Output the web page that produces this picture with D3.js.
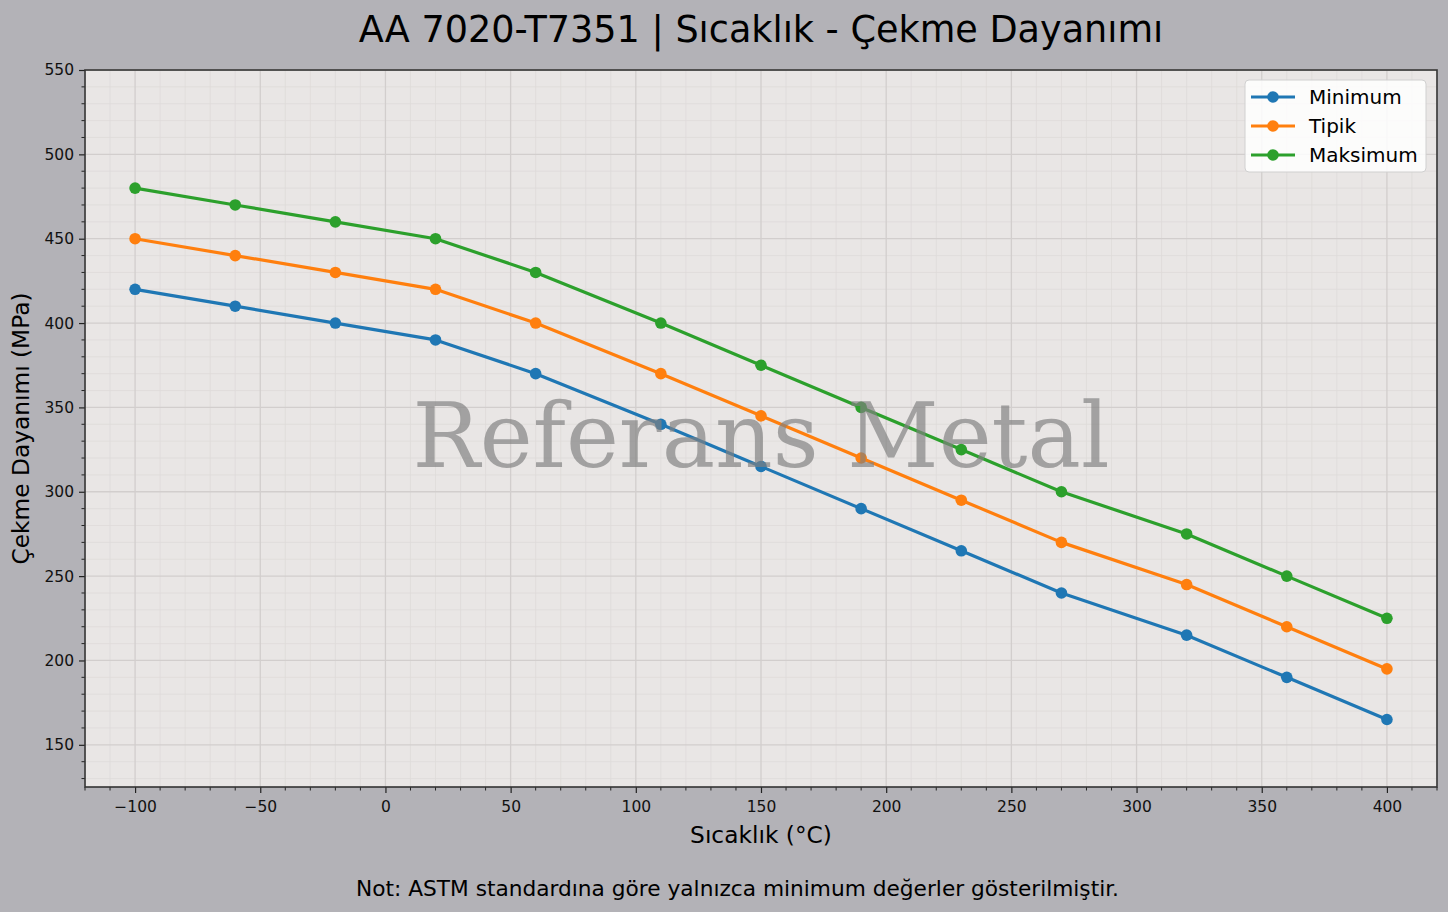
<!DOCTYPE html>
<html>
<head>
<meta charset="utf-8">
<script src="https://cdn.jsdelivr.net/npm/d3@7"></script>
<style>
  body { margin: 0; background: #b3b2b7; }
  text { font-family: "DejaVu Sans", sans-serif; }
</style>
</head>
<body>
<script>
// data
var temps = [-100, -60, -20, 20, 60, 110, 150, 190, 230, 270, 320, 360, 400];
var minimum = [420, 410, 400, 390, 370, 340, 315, 290, 265, 240, 215, 190, 165];
var tipik = [450, 440, 430, 420, 400, 370, 345, 320, 295, 270, 245, 220, 195];
var maksimum = [480, 470, 460, 450, 430, 400, 375, 350, 325, 300, 275, 250, 225];
var seriesNames = ["Minimum", "Tipik", "Maksimum"];
var xTicks = [-100, -50, 0, 50, 100, 150, 200, 250, 300, 350, 400];
var yTicks = [150, 200, 250, 300, 350, 400, 450, 500, 550];

var W = 1448, H = 912;
var m = {top: 70, right: 11, bottom: 125, left: 85};
var pw = W - m.left - m.right, ph = H - m.top - m.bottom;
var colors = ["#1f77b4", "#ff7f0e", "#2ca02c"];

var svg = d3.select("body").append("svg").attr("width", W).attr("height", H);
svg.append("rect").attr("width", W).attr("height", H).attr("fill", "#b3b2b7");

var x = d3.scaleLinear().domain([-120, 420]).range([0, pw]);
var y = d3.scaleLinear().domain([125, 550]).range([ph, 0]);

var g = svg.append("g").attr("transform", "translate(" + m.left + "," + m.top + ")");
g.append("rect").attr("width", pw).attr("height", ph).attr("fill", "#e9e6e5");

// minor grid
var xMinor = d3.range(-120, 421, 10).filter(function(v) { return v % 50 != 0; });
var yMinor = d3.range(130, 551, 10).filter(function(v) { return v % 50 != 0; });
g.append("g").selectAll("line").data(xMinor).enter().append("line")
    .attr("x1", function(d) { return x(d); }).attr("x2", function(d) { return x(d); })
    .attr("y1", 0).attr("y2", ph).attr("stroke", "#dedad9").attr("stroke-width", 0.8);
g.append("g").selectAll("line").data(yMinor).enter().append("line")
    .attr("y1", function(d) { return y(d); }).attr("y2", function(d) { return y(d); })
    .attr("x1", 0).attr("x2", pw).attr("stroke", "#dedad9").attr("stroke-width", 0.8);
// major grid
g.append("g").selectAll("line").data(xTicks).enter().append("line")
    .attr("x1", function(d) { return x(d); }).attr("x2", function(d) { return x(d); })
    .attr("y1", 0).attr("y2", ph).attr("stroke", "#d2cecd").attr("stroke-width", 1.3);
g.append("g").selectAll("line").data(yTicks).enter().append("line")
    .attr("y1", function(d) { return y(d); }).attr("y2", function(d) { return y(d); })
    .attr("x1", 0).attr("x2", pw).attr("stroke", "#d2cecd").attr("stroke-width", 1.3);

// axes
var xAxis = g.append("g").attr("transform", "translate(0," + ph + ")")
    .call(d3.axisBottom(x).tickValues(xTicks).tickSize(6).tickPadding(8)
      .tickFormat(function(d) { return d < 0 ? "\u2212" + Math.abs(d) : d; }));
var yAxis = g.append("g")
    .call(d3.axisLeft(y).tickValues(yTicks).tickSize(6).tickPadding(5));
[xAxis, yAxis].forEach(function(a) {
  a.select(".domain").remove();
  a.selectAll("line").attr("stroke", "#222").attr("stroke-width", 1.2);
  a.selectAll("text").style("font-size", "15.5px").style("font-family", "DejaVu Sans").style("fill", "#111");
});
g.append("g").selectAll("line").data(xMinor).enter().append("line")
    .attr("x1", function(d) { return x(d); }).attr("x2", function(d) { return x(d); })
    .attr("y1", ph).attr("y2", ph + 3.5).attr("stroke", "#222").attr("stroke-width", 1);
g.append("g").selectAll("line").data(yMinor).enter().append("line")
    .attr("y1", function(d) { return y(d); }).attr("y2", function(d) { return y(d); })
    .attr("x1", 0).attr("x2", -3.5).attr("stroke", "#222").attr("stroke-width", 1);

// lines
var allSeries = [minimum, tipik, maksimum];
var line = d3.line().x(function(d) { return x(d[0]); }).y(function(d) { return y(d[1]); });
allSeries.forEach(function(vals, i) {
  var pts = temps.map(function(t, j) { return [t, vals[j]]; });
  g.append("path").datum(pts).attr("d", line).attr("fill", "none")
    .attr("stroke", colors[i]).attr("stroke-width", 3.2).attr("stroke-linejoin", "round");
  g.append("g").selectAll("circle").data(pts).enter().append("circle")
    .attr("cx", function(d) { return x(d[0]); }).attr("cy", function(d) { return y(d[1]); })
    .attr("r", 5.8).attr("fill", colors[i]);
});

// watermark
g.append("text").attr("x", pw / 2).attr("y", ph / 2 + 7)
  .attr("text-anchor", "middle").attr("dominant-baseline", "central")
  .style("font-family", "DejaVu Serif").style("font-size", "89.5px")
  .style("fill", "#808080").style("fill-opacity", 0.68)
  .text("Referans Metal");

// frame
g.append("rect").attr("width", pw).attr("height", ph).attr("fill", "none")
  .attr("stroke", "#333").attr("stroke-width", 1.6);

// legend
var lg = g.append("g").attr("transform", "translate(" + (1245 - m.left) + "," + (80 - m.top) + ")");
lg.append("rect").attr("width", 181).attr("height", 92).attr("rx", 4)
  .attr("fill", "#fff").attr("fill-opacity", 0.85).attr("stroke", "#d0d0d0");
seriesNames.forEach(function(n, i) {
  var yy = 17 + i * 29;
  lg.append("line").attr("x1", 6).attr("x2", 50).attr("y1", yy).attr("y2", yy)
    .attr("stroke", colors[i]).attr("stroke-width", 3.2);
  lg.append("circle").attr("cx", 28).attr("cy", yy).attr("r", 5.8).attr("fill", colors[i]);
  lg.append("text").attr("x", 64).attr("y", yy).attr("dy", "0.35em")
    .style("font-size", "20px").text(n);
});

// titles
svg.append("text").attr("x", m.left + pw / 2).attr("y", 42).attr("text-anchor", "middle")
  .style("font-size", "36.6px").text("AA 7020-T7351 | S\u0131cakl\u0131k - \u00c7ekme Dayan\u0131m\u0131");
svg.append("text").attr("x", m.left + pw / 2).attr("y", 843).attr("text-anchor", "middle")
  .style("font-size", "23.3px").text("S\u0131cakl\u0131k (\u00b0C)");
svg.append("text").attr("transform", "translate(29," + (m.top + ph / 2) + ") rotate(-90)")
  .attr("text-anchor", "middle").style("font-size", "23.3px").text("\u00c7ekme Dayan\u0131m\u0131 (MPa)");
svg.append("text").attr("x", 737.5).attr("y", 896).attr("text-anchor", "middle")
  .style("font-size", "21.7px")
  .text("Not: ASTM standard\u0131na g\u00f6re yaln\u0131zca minimum de\u011ferler g\u00f6sterilmi\u015ftir.");
</script>
</body>
</html>
